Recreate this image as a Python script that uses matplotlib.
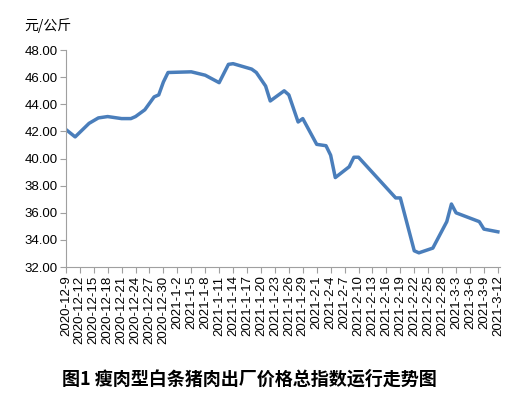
import matplotlib
matplotlib.use("Agg")
import matplotlib.pyplot as plt
import pandas as pd

plt.rcParams['font.family'] = ['Noto Sans CJK SC', 'DejaVu Sans']

day_offsets = [0, 2, 5, 7, 9, 12, 14, 15, 17, 19, 20, 21, 22, 27, 30, 33, 35, 36, 40, 41, 43, 44,
               47, 48, 50, 51, 54, 56, 57, 58, 61, 62, 63, 71, 72, 75, 76, 79, 82, 83, 84, 89, 90, 93]
values = [42.15, 41.6, 42.6, 43.0, 43.1, 42.95, 42.95, 43.1, 43.6, 44.55, 44.7, 45.65, 46.35, 46.4,
          46.15, 45.6, 46.95, 47.0, 46.6, 46.35, 45.35, 44.25, 45.0, 44.7, 42.7, 42.95, 41.05, 40.95,
          40.25, 38.6, 39.4, 40.1, 40.1, 37.1, 37.1, 33.2, 33.05, 33.4, 35.35, 36.65, 36.0, 35.35,
          34.8, 34.6]
start = pd.Timestamp("2020-12-09")
dates = [start + pd.Timedelta(days=d) for d in day_offsets]
tick_dates = pd.date_range("2020-12-09", "2021-03-12", freq="3D")
tick_labels = [f"{d.year}-{d.month}-{d.day}" for d in tick_dates]

fig = plt.figure(figsize=(5.31, 4.01), dpi=100)
ax = fig.add_axes([0.124, 0.334, 0.818, 0.541])
ax.plot(dates, values, color="#4a7ebb", lw=2.5, solid_joinstyle="round")
ax.set_xlim(start, pd.Timestamp("2021-03-12") + pd.Timedelta(hours=12))
ax.set_ylim(32, 48)
ax.set_yticks([32 + 2 * i for i in range(9)])
ax.set_yticklabels([f"{32 + 2 * i:.2f}" for i in range(9)], fontsize=9.5, family="Liberation Sans")
ax.set_xticks(tick_dates)
ax.set_xticklabels(tick_labels, rotation=90, fontsize=9.5, family="Liberation Sans")
for s in ["top", "right"]:
    ax.spines[s].set_visible(False)
for s in ["left", "bottom"]:
    ax.spines[s].set_color("#a0a0a0")
ax.tick_params(axis="both", color="#a0a0a0", length=4, pad=2)
fig.text(0.045, 0.925, "元/公斤", fontsize=10)
fig.text(0.47, 0.04, "图1 瘦肉型白条猪肉出厂价格总指数运行走势图", fontsize=13, weight="bold", ha="center")
fig.savefig("out.png", dpi=100)
